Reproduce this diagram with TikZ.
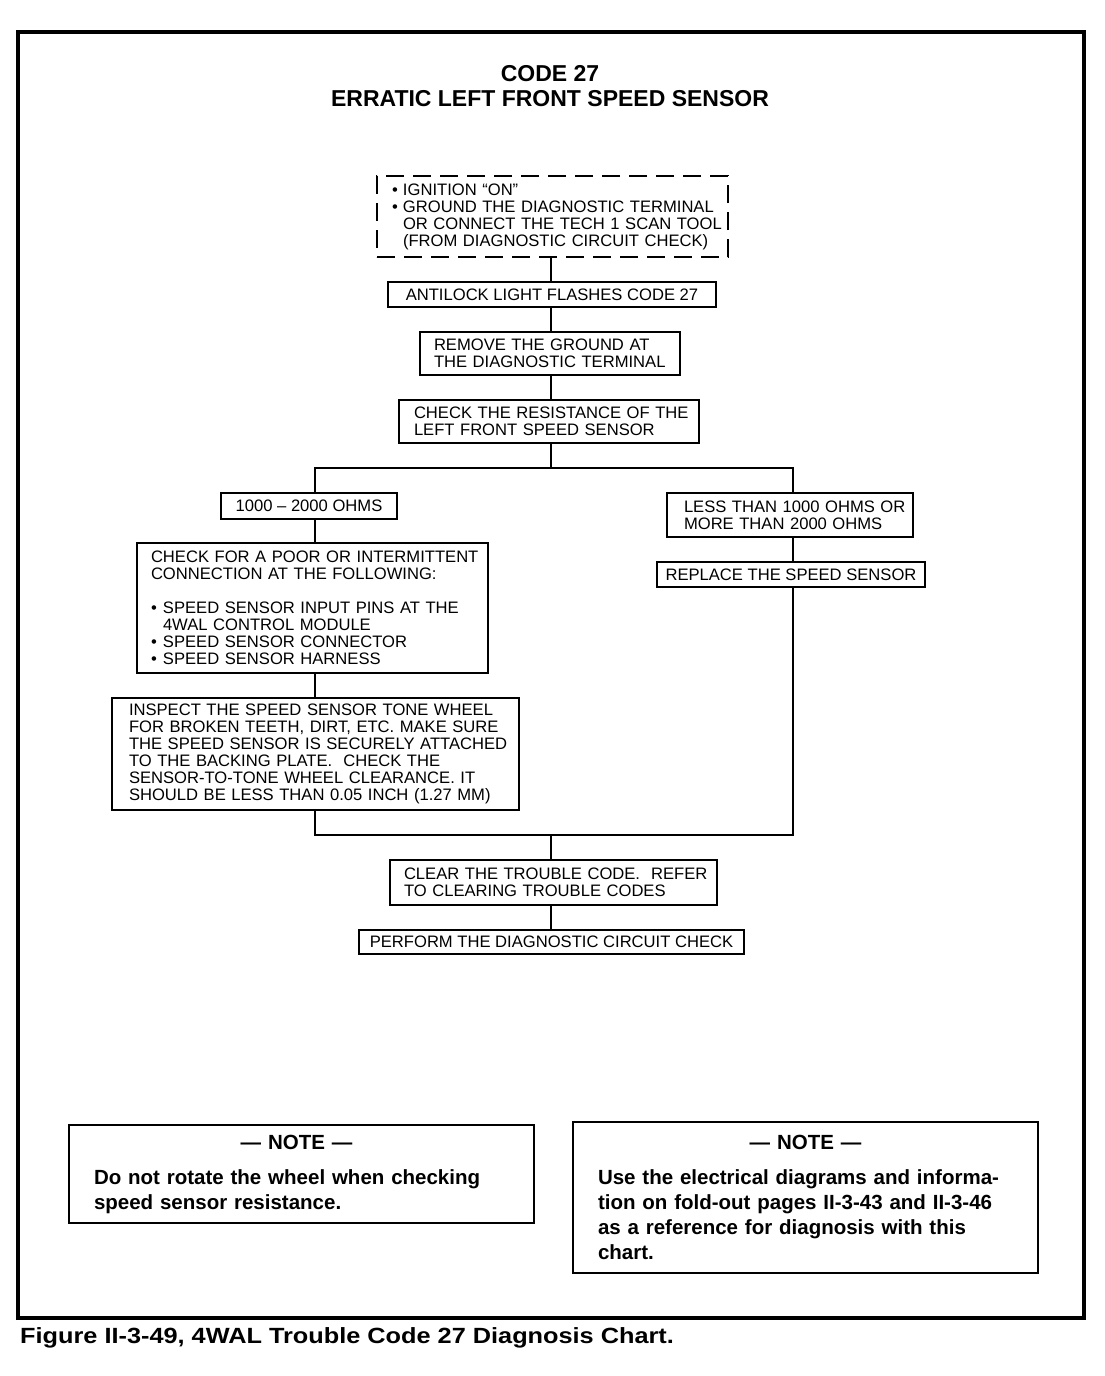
\documentclass[tikz,border=0pt]{standalone}
\usepackage{fontspec}
\setmainfont{Liberation Sans}
\newcommand\rowtxt[1]{\mbox{#1}}
\begin{document}
\begin{tikzpicture}[x=1pt,y=-1pt,
  box/.style={draw, line width=1.8pt, inner sep=0pt, font=\fontsize{16.6}{17}\selectfont, align=left},
  cbox/.style={draw, line width=1.8pt, inner sep=0pt, font=\fontsize{16.6}{17}\selectfont, align=center},
  notebox/.style={draw, line width=1.8pt, inner sep=0pt, font=\bfseries\fontsize{20.5}{25}\selectfont, align=left, minimum width=465pt, text width=415pt},
  ln/.style={line width=1.8pt}]
\useasboundingbox (0,0) rectangle (1104,1376);
\node[draw, line width=3.5pt, minimum width=1066pt, minimum height=1286pt, inner sep=0pt] (frame) at (551,675) {};
\node[font=\bfseries\fontsize{23}{25}\selectfont, align=center] (title) at (550,86) {CODE 27\\ERRATIC LEFT FRONT SPEED SENSOR};
\node[box, dash pattern=on 18pt off 9pt, minimum width=351pt, minimum height=81pt, text width=321pt] (dash) at (552.5,216.5)
  {\rowtxt{\makebox[11pt][l]{•}IGNITION “ON”}\\ \rowtxt{\makebox[11pt][l]{•}GROUND THE DIAGNOSTIC TERMINAL}\\ \rowtxt{\hspace*{11pt}OR CONNECT THE TECH 1 SCAN TOOL}\\ \rowtxt{\hspace*{11pt}(FROM DIAGNOSTIC CIRCUIT CHECK)}};
\node[cbox, minimum width=328pt, minimum height=25pt] (antilock) at (552,294.5) {ANTILOCK LIGHT FLASHES CODE 27};
\node[box, minimum width=260pt, minimum height=43pt, text width=232pt] (remove) at (550,353.5) {\rowtxt{REMOVE THE GROUND AT}\\\rowtxt{THE DIAGNOSTIC TERMINAL}};
\node[box, minimum width=300pt, minimum height=43pt, text width=270pt] (resist) at (549,421.5) {\rowtxt{CHECK THE RESISTANCE OF THE}\\\rowtxt{LEFT FRONT SPEED SENSOR}};
\node[cbox, minimum width=176pt, minimum height=26pt] (ohmsL) at (309,506) {1000 – 2000 OHMS};
\node[box, minimum width=246pt, minimum height=44pt, text width=212pt] (ohmsR) at (790,515) {\rowtxt{LESS THAN 1000 OHMS OR}\\\rowtxt{MORE THAN 2000 OHMS}};
\node[cbox, minimum width=268pt, minimum height=25pt] (replace) at (791,574.5) {REPLACE THE SPEED SENSOR};
\node[box, minimum width=351pt, minimum height=130pt, text width=323pt] (poor) at (312.5,608)
  {\rowtxt{CHECK FOR A POOR OR INTERMITTENT}\\\rowtxt{CONNECTION AT THE FOLLOWING:}\\[17pt]
   \rowtxt{\makebox[12pt][l]{•}SPEED SENSOR INPUT PINS AT THE}\\ \rowtxt{\hspace*{12pt}4WAL CONTROL MODULE}\\ \rowtxt{\makebox[12pt][l]{•}SPEED SENSOR CONNECTOR}\\ \rowtxt{\makebox[12pt][l]{•}SPEED SENSOR HARNESS}};
\node[box, minimum width=407pt, minimum height=112pt, text width=373pt] (inspect) at (315.5,754)
  {\rowtxt{INSPECT THE SPEED SENSOR TONE WHEEL}\\\rowtxt{FOR BROKEN TEETH, DIRT, ETC. MAKE SURE}\\\rowtxt{THE SPEED SENSOR IS SECURELY ATTACHED}\\\rowtxt{TO THE BACKING PLATE.\ \ CHECK THE}\\\rowtxt{SENSOR-TO-TONE WHEEL CLEARANCE. IT}\\\rowtxt{SHOULD BE LESS THAN 0.05 INCH (1.27 MM)}};
\node[box, minimum width=327pt, minimum height=45pt, text width=299pt] (clear) at (553.5,882.5) {\rowtxt{CLEAR THE TROUBLE CODE.\ \ REFER}\\\rowtxt{TO CLEARING TROUBLE CODES}};
\node[cbox, minimum width=385pt, minimum height=24pt] (perform) at (551.5,942) {PERFORM THE DIAGNOSTIC CIRCUIT CHECK};
\node[notebox, minimum height=98pt] (noteL) at (301.5,1174)
  {\makebox[405pt][c]{— NOTE —}\\[10pt]Do not rotate the wheel when checking\\speed sensor resistance.};
\node[notebox, minimum height=151pt] (noteR) at (805.5,1197.5)
  {\makebox[415pt][c]{— NOTE —}\\[10pt]Use the electrical diagrams and informa-\\tion on fold-out pages II-3-43 and II-3-46\\as a reference for diagnosis with this\\chart.};
\node[anchor=west, inner sep=0pt, xscale=1.15, font=\bfseries\fontsize{22}{25}\selectfont] (caption) at (20,1338) {Figure II-3-49, 4WAL Trouble Code 27 Diagnosis Chart.};
% connectors
\coordinate (xC) at (551,0);
\coordinate (xL) at (315,0);
\coordinate (xR) at (793,0);
\coordinate (br) at (551,468);
\coordinate (jn) at (551,835);
\draw[ln] (dash.south -| xC) -- (antilock.north -| xC);
\draw[ln] (antilock.south -| xC) -- (remove.north -| xC);
\draw[ln] (remove.south -| xC) -- (resist.north -| xC);
\draw[ln] (resist.south -| xC) -- (br);
\draw[ln] (ohmsL.north -| xL) |- (br) -| (ohmsR.north -| xR);
\draw[ln] (ohmsL.south -| xL) -- (poor.north -| xL);
\draw[ln] (poor.south -| xL) -- (inspect.north -| xL);
\draw[ln] (ohmsR.south -| xR) -- (replace.north -| xR);
\draw[ln] (inspect.south -| xL) |- (jn) -| (replace.south -| xR);
\draw[ln] (jn) -- (clear.north -| xC);
\draw[ln] (clear.south -| xC) -- (perform.north -| xC);
\end{tikzpicture}
\end{document}
